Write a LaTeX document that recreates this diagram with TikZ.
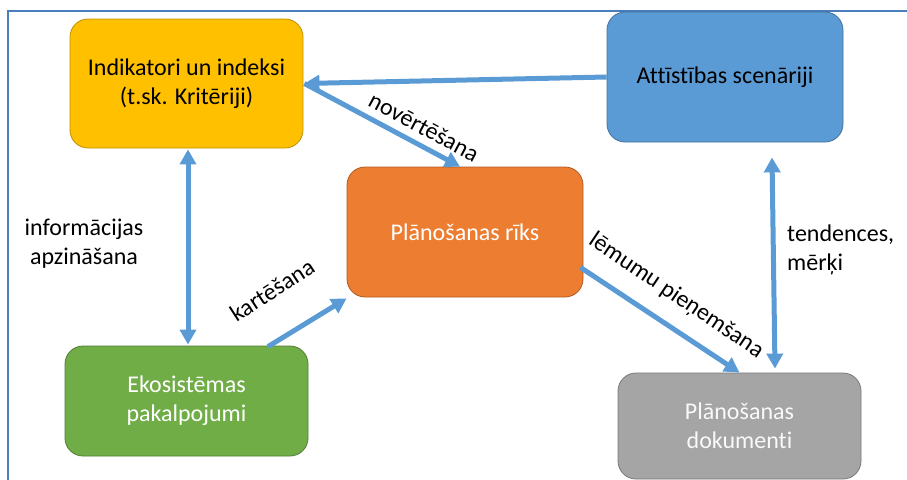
\documentclass[tikz,border=0pt]{standalone}
\usepackage{fontspec}
\setmainfont{Carlito}[Ligatures=NoCommon]
\usetikzlibrary{arrows.meta,calc}
\definecolor{arr}{HTML}{5B9BD5}
\definecolor{framec}{HTML}{4A7EBB}
\definecolor{yelf}{HTML}{FFC000}
\definecolor{yeld}{HTML}{BF9000}
\definecolor{bluf}{HTML}{5B9BD5}
\definecolor{blud}{HTML}{41719C}
\definecolor{orgf}{HTML}{ED7D31}
\definecolor{orgd}{HTML}{AE5A21}
\definecolor{grnf}{HTML}{70AD47}
\definecolor{grnd}{HTML}{507E32}
\definecolor{gryf}{HTML}{A5A5A5}
\definecolor{gryd}{HTML}{787878}
\begin{document}
\begin{tikzpicture}[x=1pt,y=-1pt,
  box/.style={rectangle, rounded corners=18pt, draw, line width=0.8pt, align=center,
    font=\fontsize{24}{29}\selectfont, inner sep=0pt},
  lbl/.style={font=\fontsize{24}{29}\selectfont, text=black, inner sep=0pt},
  conn/.style={draw=arr, line width=5pt, -{Triangle[width=16pt,length=15pt]}},
  dconn/.style={draw=arr, line width=5pt, {Triangle[width=16pt,length=15pt]}-{Triangle[width=16pt,length=15pt]}}]
\useasboundingbox (0,0) rectangle (907,479);
\draw[framec, line width=1.2pt] (8,480) -- (8,11) -- (908,11);

\node[box, fill=yelf, draw=yeld, text=black, minimum width=233pt, minimum height=129pt] (yel) at (186.5,83.5) {Indikatori un indeksi\\(t.sk. Kritēriji)};
\node[box, fill=bluf, draw=blud, text=black, minimum width=236pt, minimum height=130pt] (blu) at (725,77) {Attīstības scenāriji};
\node[box, fill=orgf, draw=orgd, text=white, minimum width=236pt, minimum height=130pt] (org) at (465,232) {Plānošanas rīks};
\node[box, fill=grnf, draw=grnd, text=white, minimum width=243pt, minimum height=110pt] (grn) at (186.5,401) {Ekosistēmas\\pakalpojumi};
\node[box, fill=gryf, draw=gryd, text=white!95!gray, minimum width=243pt, minimum height=106pt] (gry) at (739.5,426) {Plānošanas\\dokumenti};

\draw[dconn] ($(yel.south)+(1.5,1)$) -- ($(grn.north)+(1.5,-1)$);
\draw[dconn] ($(blu.south)+(47,15)$) -- ($(gry.north)+(35.5,-4)$);
\draw[conn] (blu.west) -- ($(yel.east)+(1,0)$);
\draw[conn] ($(yel.east)+(1,0)$) -- ($(org.north)+(-5,0)$);
\draw[conn] ($(grn.north)+(81.5,1)$) -- ($(org.south west)+(0,1)$);
\draw[conn] ($(org.south east)+(-3,-30)$) -- (gry.north);

\node[lbl, rotate=-28] (l1) at (424,127) {novērtēšana};
\node[lbl, align=center] (l2) at (84,244) {informācijas\\apzināšana};
\node[lbl, rotate=33] (l3) at (272,290) {kartēšana};
\node[lbl, rotate=-34] (l4) at (676,296) {lēmumu pieņemšana};
\node[lbl, align=left, anchor=west] (l5) at (787,250) {tendences,\\mērķi};
\end{tikzpicture}
\end{document}
